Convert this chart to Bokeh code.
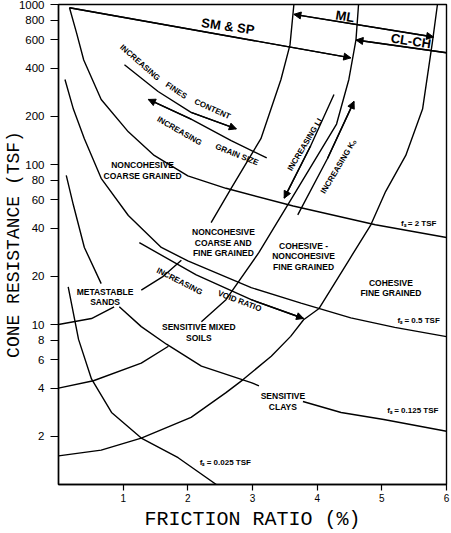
from bokeh.plotting import figure
from bokeh.models import FixedTicker, NumeralTickFormatter, Arrow, NormalHead
from bokeh.core.properties import value
from bokeh.embed import file_html
from bokeh.resources import INLINE

# ---- axes ----
y_ticks = [2, 4, 6, 8, 10, 20, 40, 60, 80, 100, 200, 400, 600, 800, 1000]
x_ticks = [1, 2, 3, 4, 5, 6]

# ---- constant sleeve-friction curves (friction ratio %, cone resistance TSF) ----
fs2_rf = [0.17, 0.28, 0.39, 0.66, 1.08, 1.48, 2.0, 2.59, 3.63, 4.9, 6.0]
fs2_qc = [955, 662, 450, 255, 160, 114, 85, 71, 55, 42, 35]

fs05_rf = [0.10, 0.23, 0.40, 0.66, 1.08, 1.59, 2.0, 2.98, 3.75, 4.52, 5.2, 6.0]
fs05_qc = [340, 222, 145, 82, 48, 30.3, 25, 17, 13.6, 11.0, 9.6, 8.4]

fs0125_rf_a = [0.12, 0.23, 0.40, 0.66]
fs0125_qc_a = [85.5, 55.8, 30.3, 18.0]
fs0125_rf_b = [0.94, 1.28, 1.67, 2.21, 2.98, 3.10]
fs0125_qc_b = [12.9, 9.7, 7.53, 5.5, 4.33, 4.14]
fs0125_rf_c = [3.78, 4.37, 5.03, 6.0]
fs0125_qc_c = [3.30, 2.82, 2.55, 2.15]

fs0025_rf = [0.15, 0.31, 0.51, 0.82, 1.28, 1.85, 2.44]
fs0025_qc = [17.2, 8.07, 4.57, 2.82, 1.95, 1.47, 1.0]

# ---- zone boundary curves ----
b1_rf_a = [0.0, 0.51, 0.86]
b1_qc_a = [10.0, 10.9, 12.9]
b1_rf_b = [1.28, 1.62, 1.90]
b1_qc_b = [16.4, 20.0, 25.2]
b1_rf_c = [2.36, 2.67, 3.13, 3.44, 3.58, 3.64]
b1_qc_c = [43.3, 71, 145, 340, 559, 1000]

b2_rf_a = [0.0, 0.54, 1.28, 1.70]
b2_qc_a = [4.0, 4.45, 5.74, 7.31]
b2_rf_b = [2.21, 2.59, 3.10, 3.70, 4.30, 4.49, 4.60, 4.64]
b2_qc_b = [10.4, 14.3, 28.2, 71, 179, 340, 600, 1000]

b3_rf = [0.0, 0.66, 1.28, 2.05, 2.59, 2.85, 3.29, 3.59, 3.79, 4.03, 4.49, 4.83,
         5.06, 5.37, 5.63, 5.78, 5.86]
b3_qc = [1.51, 1.64, 1.95, 2.63, 3.75, 4.51, 6.34, 8.43, 10.7, 12.6, 25.2, 42,
         68, 114, 222, 574, 1000]

# ---- trend arrows ----
fines_rf = [1.02, 1.54, 2.05, 2.75]
fines_qc = [420, 286, 212, 167]
grain_rf = [1.39, 2.05, 2.67, 3.22]
grain_qc = [255, 192, 141, 110]
li_rf = [4.26, 3.90, 3.49]
li_qc = [274, 131, 61.6]
ko_rf = [3.70, 4.16, 4.57]
ko_qc = [48.4, 109, 248]
void_rf = [1.25, 2.13, 2.98, 3.79]
void_qc = [32.5, 20.4, 14.3, 10.9]

# ---- soil class arrows on top ----
smsp_rf = [0.17, 4.52]
smsp_qc = [955, 464]
ml_rf = [3.64, 5.80]
ml_qc = [868, 626]
clch_rf = [4.60, 6.0]
clch_qc = [600, 499]

# ---- labels ----
zone_text = ["NONCOHESIVE\nCOARSE GRAINED", "NONCOHESIVE\nCOARSE AND\nFINE GRAINED",
             "COHESIVE -\nNONCOHESIVE\nFINE GRAINED", "COHESIVE\nFINE GRAINED",
             "METASTABLE\nSANDS", "SENSITIVE MIXED\nSOILS", "SENSITIVE\nCLAYS"]
zone_rf = [1.30, 2.55, 3.79, 5.14, 0.72, 2.17, 3.47]
zone_qc = [91.8, 32.5, 26.7, 16.9, 14.9, 8.93, 3.30]

fs_text = ["fₛ = 2 TSF", "fₛ = 0.5 TSF", "fₛ = 0.125 TSF", "fₛ = 0.025 TSF"]
fs_lab_rf = [5.57, 5.57, 5.48, 2.58]
fs_lab_qc = [42.7, 10.6, 2.90, 1.37]

trend_text = ["INCREASING", "FINES", "CONTENT", "INCREASING", "GRAIN SIZE",
              "INCREASING LI", "INCREASING Kₒ", "INCREASING", "VOID RATIO"]
trend_rf = [1.26, 1.82, 2.38, 1.87, 2.76, 3.81, 4.33, 1.87, 2.80]
trend_qc = [433, 290, 222, 162, 115, 133, 97, 18.6, 14.0]
trend_angle = [-0.72, -0.59, -0.42, -0.52, -0.38, 1.03, 1.03, -0.47, -0.36]

class_text = ["SM & SP", "ML", "CL-CH"]
class_rf = [2.62, 4.43, 5.45]
class_qc = [731, 843, 592]
class_angle = [-0.14, -0.16, -0.16]

LW = 1.4
C = "black"

p = figure(width=451, height=533, x_range=(0, 6), y_range=(1, 1000),
           y_axis_type="log", output_backend="svg", toolbar_location=None,
           min_border_left=57, min_border_right=5, min_border_top=4,
           min_border_bottom=43)
p.grid.visible = False
p.outline_line_color = C
p.outline_line_width = LW
p.background_fill_color = "white"
p.border_fill_color = "white"

p.xaxis.ticker = FixedTicker(ticks=x_ticks)
p.yaxis.ticker = FixedTicker(ticks=y_ticks)
p.yaxis.formatter = NumeralTickFormatter(format="0")
for ax in (p.xaxis[0], p.yaxis[0]):
    ax.axis_line_color = C
    ax.axis_line_width = LW
    ax.major_tick_line_color = C
    ax.major_tick_line_width = 1.2
    ax.major_tick_in = 0
    ax.minor_tick_in = 0
    ax.minor_tick_out = 0
    ax.major_label_text_color = C
    ax.major_label_text_font = "Liberation Sans"
    ax.axis_label_text_font = "Liberation Mono"
    ax.axis_label_text_font_style = "normal"
    ax.axis_label_text_color = C
p.yaxis.major_tick_out = 8
p.xaxis.major_tick_out = 6
p.yaxis.major_label_text_font_size = "11.5px"
p.xaxis.major_label_text_font_size = "10px"
p.yaxis.major_label_standoff = 6
p.xaxis.major_label_standoff = 3
p.yaxis.axis_label = "CONE RESISTANCE (TSF)"
p.xaxis.axis_label = "FRICTION RATIO (%)"
p.yaxis.axis_label_text_font_size = "18px"
p.xaxis.axis_label_text_font_size = "20px"
p.yaxis.axis_label_standoff = -8
p.xaxis.axis_label_standoff = 3

for xs, ys in [(fs2_rf, fs2_qc), (fs05_rf, fs05_qc), (fs0125_rf_a, fs0125_qc_a),
               (fs0125_rf_b, fs0125_qc_b), (fs0125_rf_c, fs0125_qc_c),
               (fs0025_rf, fs0025_qc), (b1_rf_a, b1_qc_a), (b1_rf_b, b1_qc_b),
               (b1_rf_c, b1_qc_c), (b2_rf_a, b2_qc_a), (b2_rf_b, b2_qc_b),
               (b3_rf, b3_qc), (fines_rf, fines_qc), (grain_rf, grain_qc),
               (li_rf, li_qc), (ko_rf, ko_qc), (void_rf, void_qc),
               (smsp_rf, smsp_qc), (ml_rf, ml_qc), (clch_rf, clch_qc)]:
    p.line(xs, ys, line_color=C, line_width=LW)


def head():
    return NormalHead(size=7, fill_color=C, line_color=C, line_width=1)


def arrow_at(xs, ys, i_from, i_to, start=False):
    a = Arrow(x_start=xs[i_from], y_start=ys[i_from], x_end=xs[i_to], y_end=ys[i_to],
              end=head(), start=head() if start else None,
              line_color=C, line_width=LW)
    p.add_layout(a)


arrow_at(fines_rf, fines_qc, -2, -1)
arrow_at(grain_rf, grain_qc, 1, 0)
arrow_at(li_rf, li_qc, -2, -1)
arrow_at(ko_rf, ko_qc, -2, -1)
arrow_at(void_rf, void_qc, -2, -1)
arrow_at(smsp_rf, smsp_qc, 0, 1)
arrow_at(ml_rf, ml_qc, 0, 1, start=True)
arrow_at(clch_rf, clch_qc, 1, 0)

font = value("Liberation Sans")
p.text(zone_rf, zone_qc, text=zone_text, text_font=font, text_font_style="bold",
       text_font_size="8.5px", text_align="center", text_baseline="middle",
       text_line_height=1.05, text_color=C)
p.text(fs_lab_rf, fs_lab_qc, text=fs_text, text_font=font, text_font_style="bold",
       text_font_size="8px", text_align="center", text_baseline="middle", text_color=C)
p.text(trend_rf, trend_qc, text=trend_text, angle=trend_angle, text_font=font,
       text_font_style="bold", text_font_size="8px", text_align="center",
       text_baseline="middle", text_color=C)
p.text(class_rf, class_qc, text=class_text, angle=class_angle, text_font=font,
       text_font_style="bold", text_font_size="13px", text_align="center",
       text_baseline="middle", text_color=C)

open("out.html", "w").write(file_html(p, INLINE))
